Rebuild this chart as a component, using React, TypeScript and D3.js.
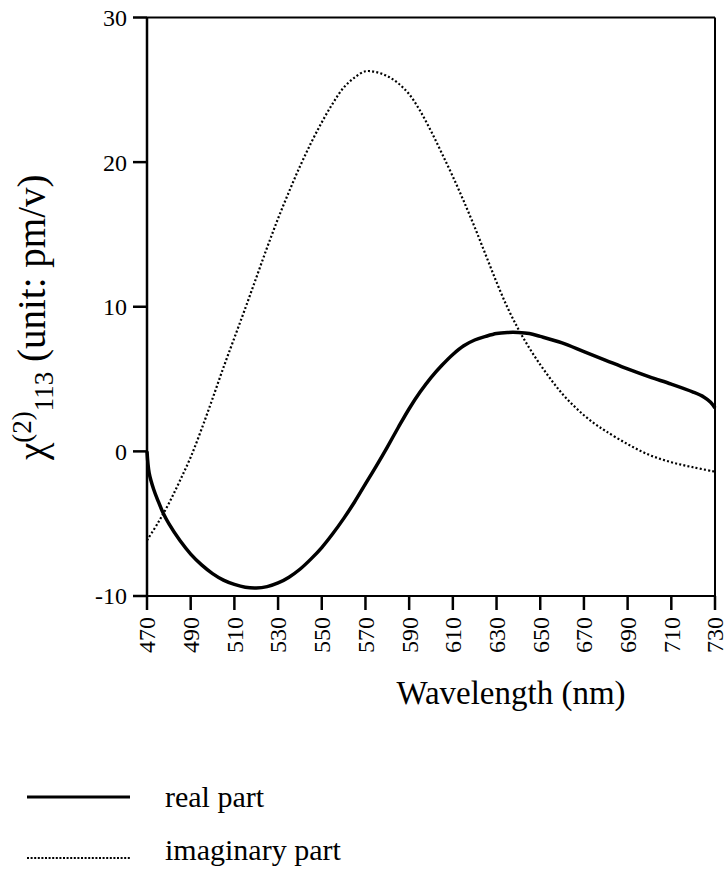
import React from "react";
import * as d3 from "d3";

const realWl = [470, 471, 473, 475, 477.5, 480, 485, 490, 495, 500, 505, 510, 515, 520, 525, 530, 535, 540, 545, 550, 555, 560, 565, 570, 575, 580, 585, 590, 595, 600, 605, 610, 615, 620, 625, 630, 635, 640, 645, 650, 660, 670, 680, 690, 700, 710, 720, 725, 728, 730];
const realVal = [0, -1.5, -2.6, -3.4, -4.3, -5.0, -6.15, -7.1, -7.85, -8.45, -8.9, -9.2, -9.4, -9.45, -9.35, -9.1, -8.7, -8.15, -7.45, -6.65, -5.7, -4.65, -3.5, -2.25, -1.0, 0.3, 1.65, 2.95, 4.1, 5.1, 5.95, 6.7, 7.3, 7.7, 7.95, 8.15, 8.22, 8.22, 8.15, 7.95, 7.5, 6.9, 6.3, 5.7, 5.15, 4.65, 4.1, 3.75, 3.4, 3.0];

const imagWl = [470, 475, 480, 485, 490, 495, 500, 505, 510, 515, 520, 525, 530, 535, 540, 545, 550, 555, 560, 565, 570, 575, 580, 585, 590, 595, 600, 605, 610, 615, 620, 625, 630, 635, 640, 645, 650, 655, 660, 665, 670, 675, 680, 690, 700, 710, 720, 730];
const imagVal = [-6.15, -4.95, -3.6, -2.05, -0.4, 1.55, 3.65, 5.8, 7.85, 9.9, 12.0, 14.1, 16.1, 17.95, 19.7, 21.3, 22.75, 24.05, 25.15, 25.85, 26.28, 26.22, 25.95, 25.45, 24.7, 23.55, 22.15, 20.6, 19.0, 17.3, 15.5, 13.6, 11.7, 9.95, 8.45, 7.15, 6.0, 4.95, 4.0, 3.2, 2.5, 1.9, 1.4, 0.5, -0.25, -0.75, -1.1, -1.4];

const xTicks = [470, 490, 510, 530, 550, 570, 590, 610, 630, 650, 670, 690, 710, 730];
const yTicks = [-10, 0, 10, 20, 30];

const legendLabels = ["real part", "imaginary part"];
const xTitle = "Wavelength (nm)";

const FONT = "Liberation Serif, Times New Roman, serif";

export default function App() {
  const x = d3.scaleLinear().domain([470, 730]).range([147, 715]);
  const y = d3.scaleLinear().domain([-10, 30]).range([596, 17.5]);

  const line = d3
    .line<[number, number]>()
    .x((d) => x(d[0]))
    .y((d) => y(d[1]))
    .curve(d3.curveCatmullRom);

  const realPts: [number, number][] = realWl.map((w, i) => [w, realVal[i]]);
  const imagPts: [number, number][] = imagWl.map((w, i) => [w, imagVal[i]]);

  const x0 = x(470);
  const x1 = x(730);
  const yTop = y(30);
  const yBot = y(-10);
  const ts = { fontFamily: FONT };

  return (
    <svg
      width={728}
      height={884}
      style={{ position: "absolute", left: 0, top: 0, background: "#fff" }}
    >
      <rect x={0} y={0} width={728} height={884} fill="#fff" />
      {/* frame */}
      <line x1={x0} x2={x1} y1={yTop} y2={yTop} stroke="#000" strokeWidth={2} />
      <line x1={x1} x2={x1} y1={yTop} y2={yBot} stroke="#000" strokeWidth={2} />
      <line x1={x0} x2={x0} y1={yTop} y2={yBot} stroke="#000" strokeWidth={2.5} />
      <line x1={x0 - 14} x2={x1} y1={yBot} y2={yBot} stroke="#000" strokeWidth={2} />

      {/* y ticks */}
      {yTicks.map((t) => (
        <g key={"y" + t}>
          <line x1={x0 - 14} x2={x0} y1={y(t)} y2={y(t)} stroke="#000" strokeWidth={2.5} />
          <text x={127} y={y(t)} dy="0.35em" textAnchor="end" fontSize={24} style={ts}>
            {t}
          </text>
        </g>
      ))}

      {/* x ticks */}
      {xTicks.map((t) => (
        <g key={"x" + t}>
          <line x1={x(t)} x2={x(t)} y1={yBot} y2={yBot + 14} stroke="#000" strokeWidth={2.5} />
          <text
            transform={`translate(${x(t)},${617}) rotate(-90)`}
            dy="0.35em"
            textAnchor="end"
            fontSize={24}
            style={ts}
          >
            {t}
          </text>
        </g>
      ))}

      {/* curves */}
      <path d={line(imagPts) || ""} fill="none" stroke="#000" strokeWidth={2.2} strokeDasharray="2 2.2" />
      <path d={line(realPts) || ""} fill="none" stroke="#000" strokeWidth={3.5} />

      {/* y title */}
      <text transform="translate(45,460) rotate(-90)" fontSize={39} style={ts}>
        <tspan>χ</tspan>
        <tspan fontSize={27} dy={-14}>(2)</tspan>
        <tspan fontSize={27} dy={22}>113</tspan>
        <tspan dy={-8}> (unit: pm/v)</tspan>
      </text>

      {/* x title */}
      <text x={511} y={704} textAnchor="middle" fontSize={33} style={ts}>
        {xTitle}
      </text>

      {/* legend */}
      <line x1={27} x2={130} y1={797} y2={797} stroke="#000" strokeWidth={3} />
      <text x={165} y={807} fontSize={30} style={ts}>
        {legendLabels[0]}
      </text>
      <line x1={27} x2={130} y1={858} y2={858} stroke="#000" strokeWidth={2} strokeDasharray="2 1.6" />
      <text x={165} y={860} fontSize={30} style={ts}>
        {legendLabels[1]}
      </text>
    </svg>
  );
}
